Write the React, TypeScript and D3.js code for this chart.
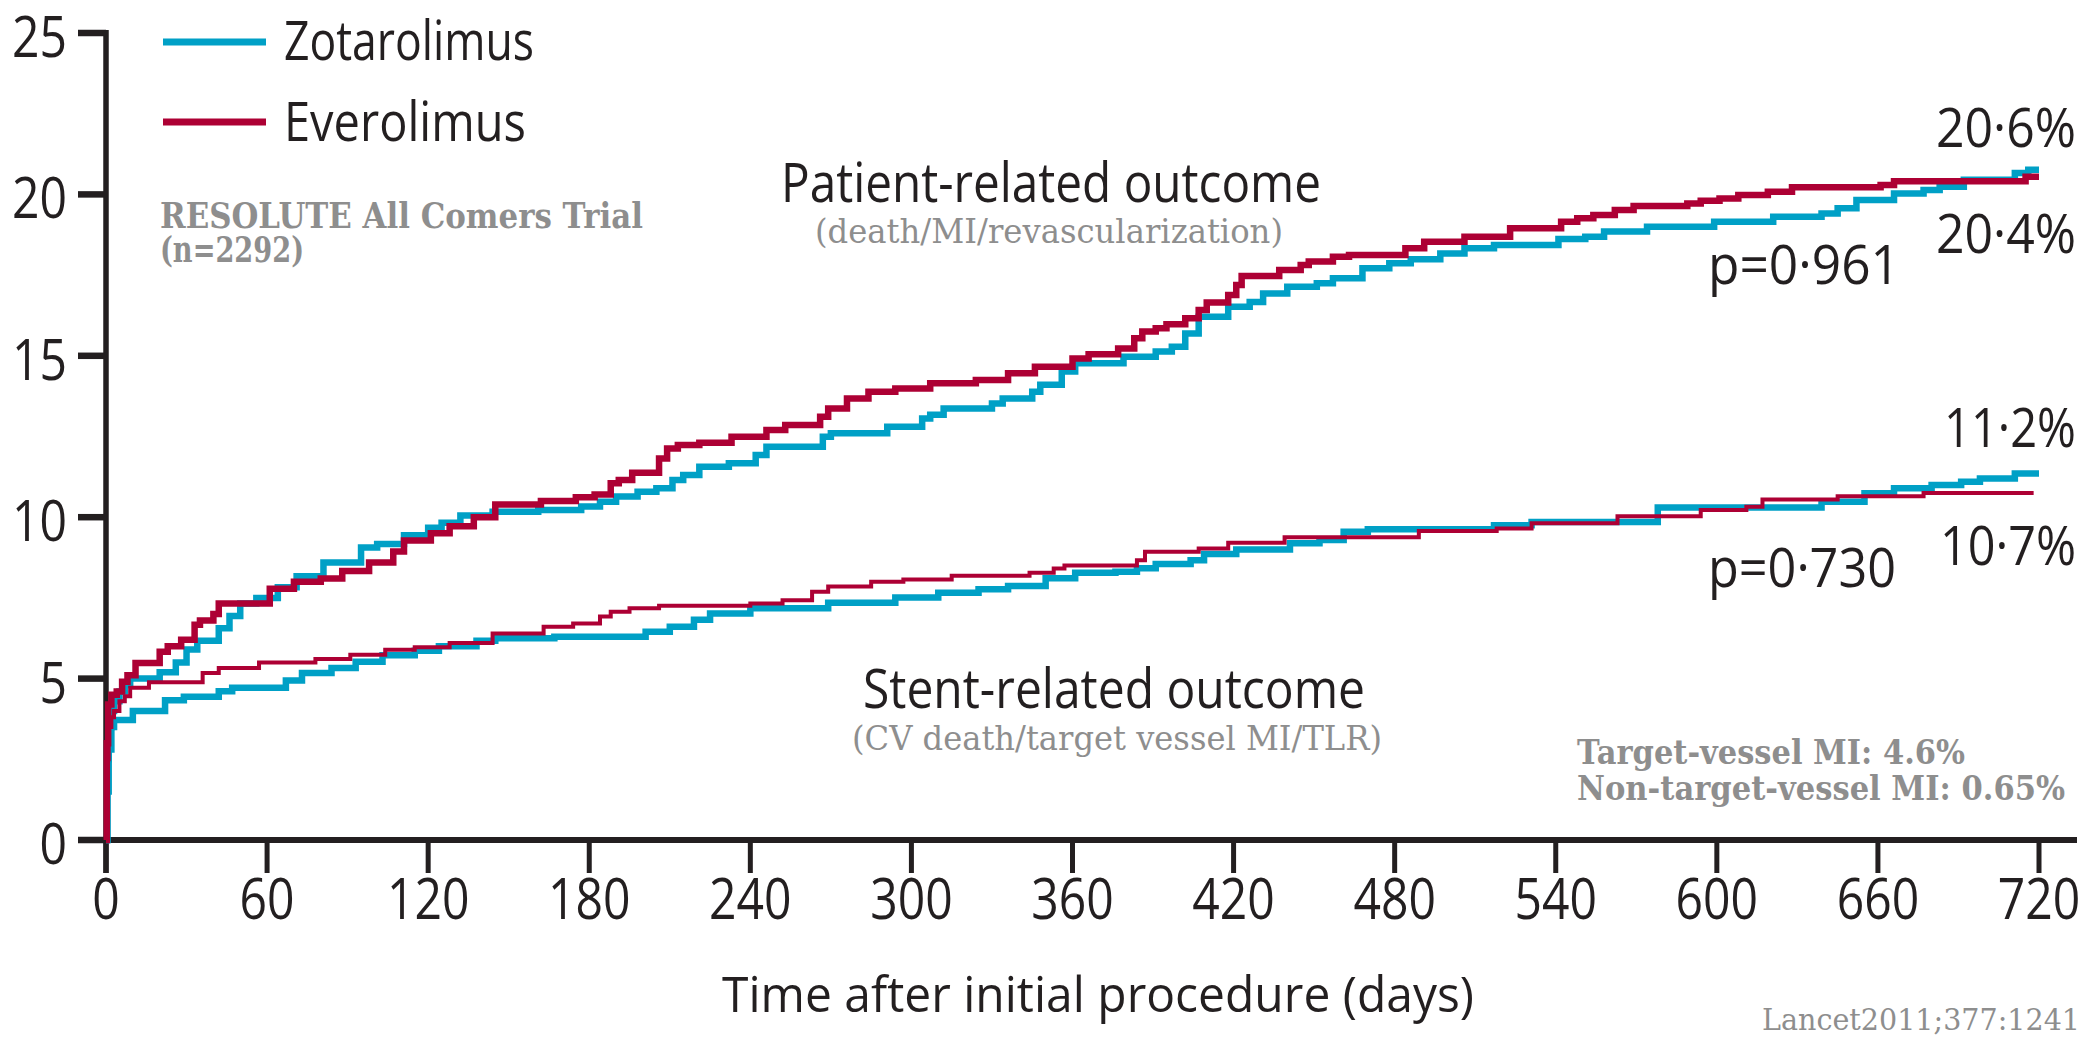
import React from "react";
import * as d3 from "d3";

// ---------- data (days, cumulative %) ----------
const seriesNames = ["Zotarolimus", "Everolimus"];
const xTickValues = [0, 60, 120, 180, 240, 300, 360, 420, 480, 540, 600, 660, 720];
const yTickValues = [0, 5, 10, 15, 20, 25];

const zotPatient: [number, number][] = [
  [0, 0], [0.5, 2.5], [1, 3.5], [2, 4.0], [3, 4.3], [5, 4.6], [7, 4.8], [9, 5.0], [20, 5.2], [26, 5.5],
  [30, 5.9], [34, 6.17], [42, 6.56], [46, 6.94], [50, 7.33], [56, 7.5], [64, 7.83], [71, 8.17], [81, 8.6],
  [95, 9.06], [101, 9.17], [111, 9.44], [120, 9.67], [125, 9.83], [132, 10.05], [144, 10.17], [161, 10.22],
  [177, 10.33], [184, 10.48], [190, 10.64], [198, 10.79], [205, 10.9], [211, 11.15], [215, 11.31], [221, 11.56],
  [232, 11.67], [242, 11.93], [246, 12.18], [267, 12.49], [270, 12.6], [291, 12.8], [304, 13.06], [307, 13.17],
  [312, 13.37], [330, 13.52], [334, 13.68], [345, 13.89], [348, 14.1], [356, 14.51], [361, 14.77], [379, 14.97],
  [391, 15.13], [397, 15.28], [402, 15.69], [407, 16.21], [418, 16.52], [426, 16.67], [431, 16.93], [440, 17.14],
  [451, 17.25], [457, 17.4], [468, 17.71], [478, 17.87], [486, 17.99], [497, 18.17], [506, 18.33], [517, 18.43],
  [541, 18.62], [551, 18.69], [558, 18.85], [574, 19.0], [599, 19.15], [621, 19.31], [639, 19.41], [645, 19.57],
  [652, 19.83], [666, 20.03], [677, 20.14], [683, 20.24], [692, 20.45], [711, 20.66], [716, 20.76], [720, 20.76],
];

const everPatient: [number, number][] = [
  [0, 0], [0.3, 3.0], [0.8, 4.2], [2, 4.5], [4, 4.6], [6, 4.9], [8, 5.1], [11, 5.48], [20, 5.83], [23, 6.0],
  [28, 6.2], [33, 6.67], [35, 6.8], [40, 7.0], [42, 7.33], [61, 7.78], [70, 8.0], [80, 8.1], [88, 8.33],
  [98, 8.6], [107, 8.94], [111, 9.28], [121, 9.5], [128, 9.72], [137, 10.0], [145, 10.39], [162, 10.5],
  [175, 10.62], [182, 10.7], [188, 11.05], [191, 11.15], [196, 11.38], [206, 11.82], [209, 12.13], [213, 12.24],
  [221, 12.31], [233, 12.49], [246, 12.7], [253, 12.86], [266, 13.11], [269, 13.37], [276, 13.68], [284, 13.89],
  [294, 13.99], [307, 14.15], [324, 14.25], [336, 14.46], [346, 14.66], [360, 14.92], [366, 15.05], [377, 15.23],
  [383, 15.54], [386, 15.75], [391, 15.85], [395, 15.98], [402, 16.16], [407, 16.42], [410, 16.65], [418, 16.88],
  [421, 17.19], [423, 17.47], [437, 17.66], [445, 17.81], [448, 17.92], [457, 18.07], [463, 18.12], [484, 18.33],
  [491, 18.53], [506, 18.69], [523, 18.95], [542, 19.15], [548, 19.26], [554, 19.36], [562, 19.52], [569, 19.64],
  [589, 19.72], [594, 19.8], [601, 19.87], [608, 19.98], [619, 20.08], [628, 20.22], [661, 20.29], [666, 20.41],
  [715, 20.55], [720, 20.55],
];

const zotStent: [number, number][] = [
  [0, 0], [0.5, 1.5], [1, 2.8], [2, 3.5], [3, 3.72], [10, 4.0], [22, 4.33], [29, 4.44], [42, 4.61], [47, 4.72],
  [67, 4.94], [73, 5.17], [84, 5.33], [93, 5.52], [103, 5.72], [115, 5.86], [124, 6.0], [138, 6.17], [145, 6.25],
  [167, 6.3], [201, 6.45], [210, 6.61], [219, 6.82], [225, 7.02], [240, 7.18], [269, 7.35], [294, 7.51],
  [310, 7.66], [325, 7.77], [336, 7.87], [350, 8.11], [361, 8.28], [376, 8.31], [384, 8.42], [391, 8.55],
  [404, 8.67], [409, 8.86], [421, 9.0], [441, 9.19], [452, 9.29], [461, 9.55], [470, 9.63], [517, 9.75],
  [531, 9.85], [578, 10.3], [639, 10.48], [655, 10.74], [666, 10.9], [680, 11.0], [691, 11.1], [698, 11.2],
  [711, 11.35], [720, 11.35],
];

const everStent: [number, number][] = [
  [0, 0], [0.5, 2.5], [1, 3.5], [2, 3.8], [3, 4.0], [5, 4.3], [7, 4.45], [9, 4.72], [16, 4.89], [36, 5.17],
  [42, 5.33], [57, 5.5], [78, 5.61], [91, 5.74], [104, 5.89], [115, 5.97], [128, 6.1], [144, 6.4], [163, 6.61],
  [174, 6.71], [184, 6.92], [188, 7.07], [195, 7.18], [206, 7.26], [240, 7.33], [252, 7.43], [263, 7.69],
  [269, 7.85], [285, 8.0], [297, 8.07], [315, 8.19], [344, 8.28], [353, 8.41], [357, 8.5], [384, 8.67],
  [387, 8.93], [407, 9.03], [418, 9.21], [439, 9.38], [489, 9.57], [518, 9.65], [531, 9.81], [563, 10.03],
  [594, 10.22], [611, 10.32], [617, 10.55], [645, 10.65], [677, 10.75], [718, 10.75],
];

// ---------- styling ----------
const BLUE = "#00a0c6";
const RED = "#ad0034";
const INK = "#231f20";
const GRAY = "#8e8e8e";
const SANS = "'Open Sans', 'Noto Sans', sans-serif";
const SERIF = "'DejaVu Serif', 'Liberation Serif', serif";

const W = 2085;
const H = 1040;

export default function App() {
  const x = d3.scaleLinear().domain([0, 720]).range([106, 2039]);
  const y = d3.scaleLinear().domain([0, 25]).range([840, 33]);
  const line = d3
    .line<[number, number]>()
    .x((d) => x(d[0]))
    .y((d) => y(d[1]))
    .curve(d3.curveStepAfter);

  const digitW = 27.5;

  return (
    <svg
      width={W}
      height={H}
      viewBox={`0 0 ${W} ${H}`}
      style={{ position: "absolute", left: 0, top: 0, background: "#fff" }}
    >
      <rect x={0} y={0} width={W} height={H} fill="#fff" />

      {/* axes */}
      <line x1={x(0)} x2={x(0)} y1={y(25) - 3} y2={873} stroke={INK} strokeWidth={5.5} />
      <line x1={78} x2={2077} y1={y(0)} y2={y(0)} stroke={INK} strokeWidth={6} />
      {yTickValues.map((v) => (
        <g key={"yt" + v}>
          <line x1={78} x2={x(0)} y1={y(v)} y2={y(v)} stroke={INK} strokeWidth={6.5} />
          <text
            x={67}
            y={y(v) + 24}
            textAnchor="end"
            fontFamily={SANS}
            fontSize={57}
            fill={INK}
            textLength={digitW * String(v).length}
            lengthAdjust="spacingAndGlyphs"
          >
            {v}
          </text>
        </g>
      ))}
      {xTickValues.map((v) => (
        <g key={"xt" + v}>
          <line x1={x(v)} x2={x(v)} y1={y(0)} y2={873} stroke={INK} strokeWidth={5} />
          <text
            x={x(v)}
            y={919}
            textAnchor="middle"
            fontFamily={SANS}
            fontSize={57}
            fill={INK}
            textLength={digitW * String(v).length}
            lengthAdjust="spacingAndGlyphs"
          >
            {v}
          </text>
        </g>
      ))}
      <text x={722} y={1012} fontFamily={SANS} fontSize={50} fill={INK} textLength={752} lengthAdjust="spacingAndGlyphs">
        Time after initial procedure (days)
      </text>

      {/* curves: blue beneath, red on top */}
      <path d={line(zotStent) || ""} fill="none" stroke={BLUE} strokeWidth={6.5} />
      <path d={line(zotPatient) || ""} fill="none" stroke={BLUE} strokeWidth={6.5} />
      <path d={line(everPatient) || ""} fill="none" stroke={RED} strokeWidth={6.5} />
      <path d={line(everStent) || ""} fill="none" stroke={RED} strokeWidth={4} />

      {/* legend */}
      {seriesNames.map((name, i) => (
        <g key={name}>
          <line x1={163} x2={266} y1={42 + i * 80} y2={42 + i * 80} stroke={i === 0 ? BLUE : RED} strokeWidth={7} />
          <text
            x={284}
            y={60 + i * 81}
            fontFamily={SANS}
            fontSize={54}
            fill={INK}
            textLength={i === 0 ? 250 : 242}
            lengthAdjust="spacingAndGlyphs"
          >
            {name}
          </text>
        </g>
      ))}

      {/* trial info */}
      <text x={160} y={228} fontFamily={SERIF} fontWeight="bold" fontSize={36} fill={GRAY} textLength={483} lengthAdjust="spacingAndGlyphs">
        RESOLUTE All Comers Trial
      </text>
      <text x={160} y={262} fontFamily={SERIF} fontWeight="bold" fontSize={35} fill={GRAY} textLength={144} lengthAdjust="spacingAndGlyphs">
        (n=2292)
      </text>

      {/* outcome titles */}
      <text x={781} y={202} fontFamily={SANS} fontSize={54} fill={INK} textLength={540} lengthAdjust="spacingAndGlyphs">
        Patient-related outcome
      </text>
      <text x={815} y={243} fontFamily={SERIF} fontSize={34} fill={GRAY} textLength={468} lengthAdjust="spacingAndGlyphs">
        (death/MI/revascularization)
      </text>
      <text x={863} y={708} fontFamily={SANS} fontSize={54} fill={INK} textLength={502} lengthAdjust="spacingAndGlyphs">
        Stent-related outcome
      </text>
      <text x={852} y={750} fontFamily={SERIF} fontSize={34} fill={GRAY} textLength={530} lengthAdjust="spacingAndGlyphs">
        (CV death/target vessel MI/TLR)
      </text>

      {/* end labels */}
      <text x={1936} y={147} fontFamily={SANS} fontSize={54} fill={INK} textLength={140} lengthAdjust="spacingAndGlyphs">
        20·6%
      </text>
      <text x={1936} y={253} fontFamily={SANS} fontSize={54} fill={INK} textLength={140} lengthAdjust="spacingAndGlyphs">
        20·4%
      </text>
      <text x={1708} y={284} fontFamily={SANS} fontSize={54} fill={INK} textLength={192} lengthAdjust="spacingAndGlyphs">
        p=0·961
      </text>
      <text x={1944} y={447} fontFamily={SANS} fontSize={54} fill={INK} textLength={132} lengthAdjust="spacingAndGlyphs">
        11·2%
      </text>
      <text x={1940} y={565} fontFamily={SANS} fontSize={54} fill={INK} textLength={136} lengthAdjust="spacingAndGlyphs">
        10·7%
      </text>
      <text x={1708} y={587} fontFamily={SANS} fontSize={54} fill={INK} textLength={188} lengthAdjust="spacingAndGlyphs">
        p=0·730
      </text>

      {/* MI notes */}
      <text x={1577} y={764} fontFamily={SERIF} fontWeight="bold" fontSize={34} fill={GRAY} textLength={388} lengthAdjust="spacingAndGlyphs">
        Target-vessel MI: 4.6%
      </text>
      <text x={1577} y={800} fontFamily={SERIF} fontWeight="bold" fontSize={34} fill={GRAY} textLength={488} lengthAdjust="spacingAndGlyphs">
        Non-target-vessel MI: 0.65%
      </text>

      <text x={1762} y={1030} fontFamily={SERIF} fontSize={30} fill={GRAY} textLength={318} lengthAdjust="spacingAndGlyphs">
        Lancet2011;377:1241
      </text>
    </svg>
  );
}
